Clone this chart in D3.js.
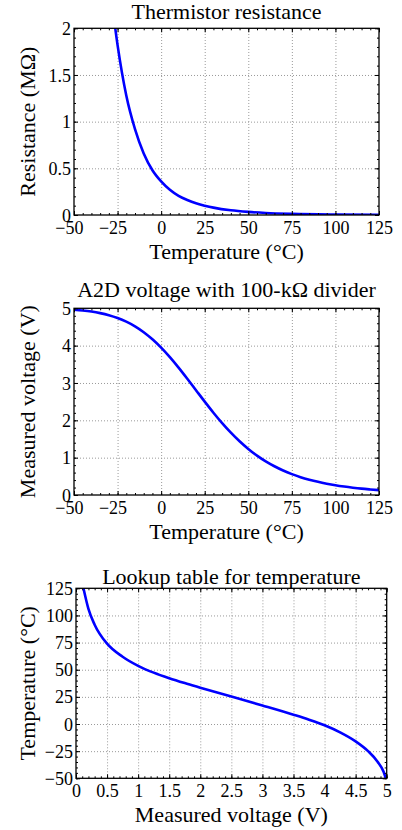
<!DOCTYPE html>
<html><head><meta charset="utf-8">
<script src="https://cdn.jsdelivr.net/npm/d3@7"></script>
<style>
html,body{margin:0;padding:0;background:#fff;}
svg{display:block;font-family:'Liberation Serif','Times New Roman',serif;}
svg text{font-family:'Liberation Serif','Times New Roman',serif;}
</style>
</head><body>
<svg id="c" width="402" height="830"></svg>
<script>
// ---- data ----
const resistanceTemp = [-30, -25, -20, -15, -10, -5, 0, 5, 10, 15, 20, 25, 30, 40, 50, 60, 75, 100, 125];
const resistanceMOhm = [2.55, 1.82, 1.28, 0.92, 0.66, 0.48, 0.36, 0.27, 0.205, 0.16, 0.125, 0.1, 0.079, 0.05, 0.033, 0.022, 0.0126, 0.0055, 0.0027];

const voltageTemp = [-50, -45, -40, -35, -30, -25, -20, -15, -10, -5, 0, 5, 10, 15, 20, 25, 30, 35, 40, 45, 50, 55, 60, 65, 70, 75, 80, 85, 90, 95, 100, 105, 110, 115, 120, 125];
const voltageValue = [4.961, 4.941, 4.912, 4.871, 4.816, 4.741, 4.642, 4.517, 4.36, 4.169, 3.946, 3.691, 3.411, 3.113, 2.806, 2.5, 2.204, 1.925, 1.669, 1.439, 1.234, 1.055, 0.901, 0.77, 0.656, 0.56, 0.478, 0.41, 0.352, 0.303, 0.261, 0.226, 0.196, 0.17, 0.149, 0.13];

const lookupVoltage = [0.12, 0.2, 0.3, 0.5, 0.75, 1.0, 1.25, 1.5, 1.75, 2.0, 2.5, 3.0, 3.5, 3.75, 4.0, 4.25, 4.5, 4.7, 4.85, 4.95, 4.985];
const lookupTemp = [125, 106, 91.5, 74, 62, 53.6, 47.3, 42.2, 37.7, 33.5, 25.3, 17.1, 8.6, 4.0, -1.2, -7.7, -16, -25, -34.5, -44, -50];

const tempTicks = [-50, -25, 0, 25, 50, 75, 100, 125];
const resistanceTicks = [0, 0.5, 1, 1.5, 2];
const voltageTicks = [0, 1, 2, 3, 4, 5];
const lookupVoltageTicks = [0, 0.5, 1, 1.5, 2, 2.5, 3, 3.5, 4, 4.5, 5];

const titles = ["Thermistor resistance", "A2D voltage with 100-k\u03A9 divider", "Lookup table for temperature"];
const xLabels = ["Temperature (\u00B0C)", "Temperature (\u00B0C)", "Measured voltage (V)"];
const yLabels = ["Resistance (M\u03A9)", "Measured voltage (V)", "Temperature (\u00B0C)"];

// ---- drawing ----
const svg = d3.select('#c');
const TICK_FS = 18, LABEL_FS = 22;
const fmt = v => String(v).replace('-', '\u2212');

const tmp = svg.append('text').attr('font-size', TICK_FS).text('\u2212');
const minusW = tmp.node().getComputedTextLength();
tmp.remove();

function range(a, b, step) {
  const out = [];
  const n = Math.round((b - a) / step);
  for (let i = 0; i <= n; i++) out.push(+(a + i * step).toFixed(6));
  return out;
}

function panel(o) {
  const x = d3.scaleLinear().domain(o.xDomain).range([o.left, o.right]);
  const y = d3.scaleLinear().domain(o.yDomain).range([o.bottom, o.top]);
  const W = o.right - o.left, H = o.bottom - o.top;
  const g = svg.append('g');

  const clipId = 'clip' + o.id;
  svg.append('defs').append('clipPath').attr('id', clipId)
    .append('rect').attr('x', o.left).attr('y', o.top).attr('width', W).attr('height', H);

  const innerX = o.xTicks.slice(1, -1), innerY = o.yTicks.slice(1, -1);
  const gx = g.append('g').attr('transform', `translate(0,${o.bottom})`)
    .call(d3.axisBottom(x).tickValues(innerX).tickSize(-H).tickFormat(''));
  const gy = g.append('g').attr('transform', `translate(${o.left},0)`)
    .call(d3.axisLeft(y).tickValues(innerY).tickSize(-W).tickFormat(''));
  [gx, gy].forEach(s => {
    s.select('.domain').remove();
    s.selectAll('line').attr('stroke', '#9a9a9a').attr('stroke-width', 1).attr('stroke-dasharray', '1,2');
  });

  const line = d3.line().x((d, i) => x(o.xs[i])).y((d, i) => y(o.ys[i])).curve(d3.curveMonotoneX);
  g.append('path').datum(o.xs).attr('clip-path', `url(#${clipId})`)
    .attr('d', line).attr('fill', 'none').attr('stroke', '#0000ff').attr('stroke-width', 2.6)
    .attr('stroke-linejoin', 'round');

  const xMinor = range(o.xDomain[0], o.xDomain[1], o.xMinor);
  const yMinor = range(o.yDomain[0], o.yDomain[1], o.yMinor);
  const tickAxes = [
    [d3.axisBottom(x), `translate(0,${o.bottom})`, xMinor, o.xTicks],
    [d3.axisTop(x), `translate(0,${o.top})`, xMinor, o.xTicks],
    [d3.axisLeft(y), `translate(${o.left},0)`, yMinor, o.yTicks],
    [d3.axisRight(y), `translate(${o.right},0)`, yMinor, o.yTicks]
  ];
  tickAxes.forEach(([ax, tr, minor, major]) => {
    const m = g.append('g').attr('transform', tr).call(ax.tickValues(minor).tickSize(-2).tickFormat(''));
    m.select('.domain').remove();
    m.selectAll('line').attr('stroke', '#000').attr('stroke-width', 1);
    const M = g.append('g').attr('transform', tr).call(ax.tickValues(major).tickSize(-4).tickFormat(''));
    M.select('.domain').remove();
    M.selectAll('line').attr('stroke', '#000').attr('stroke-width', 1);
  });

  g.append('rect').attr('x', o.left).attr('y', o.top).attr('width', W).attr('height', H)
    .attr('fill', 'none').attr('stroke', '#000').attr('stroke-width', 1.3);

  const xl = g.append('g').attr('transform', `translate(0,${o.bottom})`)
    .call(d3.axisBottom(x).tickValues(o.xTicks).tickSize(0).tickPadding(0).tickFormat(fmt));
  xl.attr('font-family', null).attr('font-size', TICK_FS);
  xl.select('.domain').remove();
  xl.selectAll('text').attr('fill', '#000')
    .attr('dy', null).attr('y', 19)
    .attr('x', d => d < 0 ? -minusW / 2 : 0);
  const yl = g.append('g').attr('transform', `translate(${o.left},0)`)
    .call(d3.axisLeft(y).tickValues(o.yTicks).tickSize(0).tickPadding(3).tickFormat(fmt));
  yl.attr('font-family', null).attr('font-size', TICK_FS);
  yl.select('.domain').remove();
  yl.selectAll('text').attr('fill', '#000').attr('dy', '0.34em');

  g.append('text').attr('x', (o.left + o.right) / 2).attr('y', o.top - o.titleGap)
    .attr('text-anchor', 'middle').attr('font-size', LABEL_FS).attr('fill', '#000').text(o.title);
  g.append('text').attr('x', (o.left + o.right) / 2).attr('y', o.bottom + 44)
    .attr('text-anchor', 'middle').attr('font-size', LABEL_FS).attr('fill', '#000').text(o.xLabel);
  g.append('text').attr('transform', `translate(35,${(o.top + o.bottom) / 2}) rotate(-90)`)
    .attr('text-anchor', 'middle').attr('font-size', LABEL_FS).attr('fill', '#000').text(o.yLabel);
}

panel({
  id: 1, left: 74, right: 379, top: 28.3, bottom: 215,
  xDomain: [-50, 125], yDomain: [0, 2], xTicks: tempTicks, yTicks: resistanceTicks,
  xMinor: 5, yMinor: 0.1, xs: resistanceTemp, ys: resistanceMOhm,
  title: titles[0], xLabel: xLabels[0], yLabel: yLabels[0], titleGap: 9
});
panel({
  id: 2, left: 74, right: 379, top: 308.3, bottom: 495,
  xDomain: [-50, 125], yDomain: [0, 5], xTicks: tempTicks, yTicks: voltageTicks,
  xMinor: 5, yMinor: 0.2, xs: voltageTemp, ys: voltageValue,
  title: titles[1], xLabel: xLabels[1], yLabel: yLabels[1], titleGap: 11
});
panel({
  id: 3, left: 76, right: 386.7, top: 588.3, bottom: 778.3,
  xDomain: [0, 5], yDomain: [-50, 125], xTicks: lookupVoltageTicks, yTicks: tempTicks,
  xMinor: 0.1, yMinor: 5, xs: lookupVoltage, ys: lookupTemp,
  title: titles[2], xLabel: xLabels[2], yLabel: yLabels[2], titleGap: 4
});
</script>
</body></html>
